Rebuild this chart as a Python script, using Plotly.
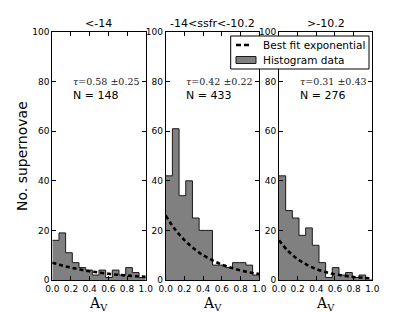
import plotly.graph_objects as go

# ---------------- data ----------------
bin_edges = [i / 14 for i in range(15)]  # 14 bins from 0 to 1

panel_titles = ["<-14", "-14<ssfr<-10.2", ">-10.2"]

counts_low = [16, 19, 11, 7, 5, 4, 2, 4, 1, 4, 2, 5, 3, 1]
counts_mid = [42, 61, 34, 40, 25, 20, 20, 6, 6, 5, 7, 7, 6, 2]
counts_high = [42, 28, 25, 18, 21, 14, 7, 1, 5, 2, 3, 1, 2, 0]

fit_x = [0.0, 0.1, 0.2, 0.3, 0.4, 0.5, 0.6, 0.7, 0.8, 0.9, 1.0]
fit_low = [7.0, 5.9, 5.0, 4.2, 3.5, 3.0, 2.5, 2.1, 1.8, 1.5, 1.25]
fit_mid = [26.0, 20.4, 16.1, 12.7, 10.0, 7.9, 6.2, 4.9, 3.9, 3.0, 2.4]
fit_high = [16.0, 11.6, 8.4, 6.1, 4.4, 3.2, 2.3, 1.7, 1.2, 0.9, 0.6]

tau_labels = ["0.58", "0.42", "0.31"]
tau_errors = ["0.25", "0.22", "0.43"]
n_labels = ["148", "433", "276"]

legend_labels = ["Best fit exponential", "Histogram data"]

y_ticks = [0, 20, 40, 60, 80, 100]
x_ticks = [0.0, 0.2, 0.4, 0.6, 0.8, 1.0]
x_tick_text = ["0.0", "0.2", "0.4", "0.6", "0.8", "1.0"]

# ---------------- figure ----------------
W, H = 415, 312
x_domains = [(52.3 / W, 145.7 / W), (165.7 / W, 259.3 / W), (279.0 / W, 372.3 / W)]
y_domain = (1 - 280 / H, 1 - 32 / H)

counts_all = [counts_low, counts_mid, counts_high]
fits_all = [fit_low, fit_mid, fit_high]

fig = go.Figure()
SANS = "DejaVu Sans"
SERIF = "DejaVu Serif"
HIST_FILL = "#808080"
HIST_EDGE = "#1a1a1a"


def px(x):
    return x / W


def py(y):
    return 1 - y / H


for i in range(3):
    xa = "x" if i == 0 else f"x{i+1}"
    ya = "y" if i == 0 else f"y{i+1}"
    ys = counts_all[i] + [counts_all[i][-1]]
    fig.add_trace(go.Scatter(
        x=bin_edges, y=ys, mode="lines", line_shape="hv",
        fill="tozeroy", fillcolor=HIST_FILL,
        line=dict(color=HIST_EDGE, width=1),
        name=legend_labels[1], showlegend=False,
        xaxis=xa, yaxis=ya, hoverinfo="skip"))
    fig.add_trace(go.Scatter(
        x=fit_x, y=fits_all[i], mode="lines", line_shape="spline",
        line=dict(color="black", width=2.6, dash="4px,3px"),
        name=legend_labels[0], showlegend=False,
        xaxis=xa, yaxis=ya, hoverinfo="skip"))

    axis_common = dict(showline=True, linecolor="black", linewidth=1, mirror="allticks",
                       ticks="inside", ticklen=4, tickcolor="black", showgrid=False,
                       zeroline=False, automargin=False,
                       tickfont=dict(family=SANS, size=9, color="black"))
    fig.layout[f"xaxis{'' if i == 0 else i+1}"] = dict(
        domain=list(x_domains[i]), range=[0, 1], anchor=ya,
        tickvals=x_ticks, ticktext=x_tick_text, **axis_common)
    fig.layout[f"yaxis{'' if i == 0 else i+1}"] = dict(
        domain=list(y_domain), range=[0, 100], anchor=xa,
        tickvals=y_ticks, **axis_common)

    cx = (x_domains[i][0] + x_domains[i][1]) / 2
    # panel title
    fig.add_annotation(text=panel_titles[i], x=cx, y=py(24), xref="paper", yref="paper",
                       showarrow=False, font=dict(family=SANS, size=11, color="black"),
                       xanchor="center", yanchor="middle")
    # x axis title
    fig.add_annotation(text="A<sub>V</sub>", x=cx, y=py(292.5), xref="paper", yref="paper",
                       showarrow=False, font=dict(family=SERIF, size=14, color="black"),
                       xanchor="center", yanchor="top")
    # tau and N annotations
    fig.add_annotation(text=f"<i>τ</i>={tau_labels[i]} ±{tau_errors[i]}", x=0.2, y=80,
                       xref=xa, yref=ya, showarrow=False, xanchor="left", yanchor="middle",
                       font=dict(family=SERIF, size=9.5, color="#222"))
    fig.add_annotation(text=f"N = {n_labels[i]}", x=0.2, y=74.5,
                       xref=xa, yref=ya, showarrow=False, xanchor="left", yanchor="middle",
                       font=dict(family=SANS, size=11, color="black"))

fig.add_annotation(text="No. supernovae", x=px(22), y=py(156), xref="paper", yref="paper",
                   showarrow=False, textangle=-90, font=dict(family=SANS, size=14, color="black"),
                   xanchor="center", yanchor="middle")

# ---- legend box (drawn to match the reference's compact matplotlib legend) ----
fig.add_shape(type="rect", xref="paper", yref="paper",
              x0=px(230.7), x1=px(369), y0=py(69), y1=py(36),
              line=dict(color="black", width=1), fillcolor="white", layer="above")
fig.add_shape(type="line", xref="paper", yref="paper",
              x0=px(236), x1=px(252), y0=py(45), y1=py(45),
              line=dict(color="black", width=2.6, dash="5px,3px"), layer="above")
fig.add_shape(type="rect", xref="paper", yref="paper",
              x0=px(236), x1=px(256), y0=py(63.5), y1=py(56.5),
              line=dict(color=HIST_EDGE, width=1), fillcolor=HIST_FILL, layer="above")
for label, yy in zip(legend_labels, [45, 60]):
    fig.add_annotation(text=label, x=px(261), y=py(yy), xref="paper", yref="paper",
                       showarrow=False, xanchor="left", yanchor="middle",
                       font=dict(family=SANS, size=10.5, color="black"))

fig.update_layout(
    width=W, height=H, margin=dict(l=0, r=0, t=0, b=0),
    paper_bgcolor="white", plot_bgcolor="white",
    showlegend=False,
)

fig.write_html("out.html", config={"displayModeBar": False},
               post_script="document.body.style.margin='0';document.body.style.padding='0';")
